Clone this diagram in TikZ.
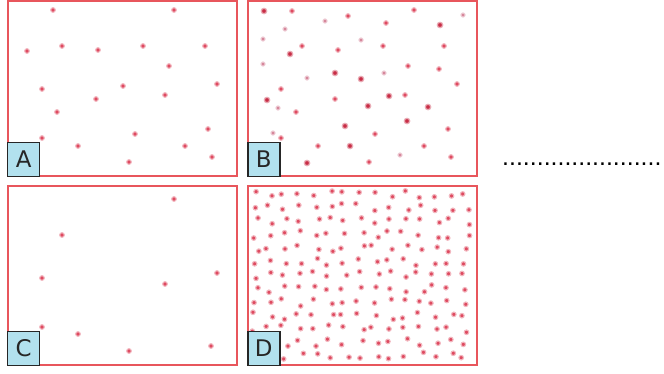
\documentclass[tikz,border=0pt]{standalone}
\usepackage{fontspec}
\setmainfont{DejaVu Sans}
\newfontfamily\blankfont{Liberation Sans}
\usetikzlibrary{positioning}
\definecolor{framered}{RGB}{232,86,92}
\definecolor{dotred}{RGB}{222,74,96}
\definecolor{dotdark}{RGB}{200,45,70}
\definecolor{dotpale}{RGB}{214,135,155}
\definecolor{tagblue}{RGB}{178,225,238}
\definecolor{tagline}{RGB}{38,38,38}
\tikzset{
  panel/.style={draw=framered, line width=2bp, minimum width=229bp, inner sep=0pt},
  tag/.style={draw=tagline, line width=1.5bp, fill=tagblue, text=black!85,
    minimum width=32bp, minimum height=34bp, inner sep=0pt, anchor=south west,
    font=\fontsize{23}{23}\selectfont},
  dot/.style={fill=dotred, draw=dotred!40, line width=1.1bp},
  darkdot/.style={fill=dotdark, draw=dotdark!40, line width=1.2bp},
  paledot/.style={fill=dotpale, draw=dotpale!40, line width=1bp},
}
\begin{document}
\begin{tikzpicture}[x=1bp, y=-1bp]
  \useasboundingbox (0,0) rectangle (664,373);
  % four frames
  \node[panel, minimum height=175.5bp] (pA) at (122.5,88.25) {};
  \node[panel, minimum height=175.5bp] (pB) at (362.5,88.25) {};
  \node[panel, minimum height=179bp] (pC) at (122.5,275.5) {};
  \node[panel, minimum height=179bp] (pD) at (362.5,275.5) {};
  % A: few particles
  \foreach \p in {(53,10),(174,10),(27,51),(62,46),(98,50),(143,46),(205,46),
      (169,66),(42,89),(123,86),(217,84),(96,99),(165,95),(57,112),(208,129),
      (135,134),(42,138),(78,146),(185,146),(212,157),(129,162)}
    \path[dot] \p circle[radius=2.3bp];
  % B: more particles, some darker
  \foreach \p in {(292,11),(414,10),(348,16),(386,23),(302,46),(338,50),(383,46),
      (444,46),(408,66),(439,69),(457,84),(281,89),(335,99),(405,95),(296,112),
      (448,129),(281,138),(375,134),(318,146),(424,146),(451,157),(369,162)}
    \path[dot] \p circle[radius=2.3bp];
  \foreach \p in {(264,11),(440,25),(290,54),(335,73),(361,79),(267,100),(389,96),
      (368,106),(428,107),(407,121),(345,126),(350,146),(307,163)}
    \path[darkdot] \p circle[radius=2.7bp];
  \foreach \p in {(285,29),(263,39),(361,40),(263,64),(384,73),(307,78),(278,108),
      (273,133),(400,155),(463,15),(325,21)}
    \path[paledot] \p circle[radius=2.1bp];
  % C: very few particles
  \foreach \p in {(174,199),(62,235),(42,278),(217,273),(165,284),(42,327),
      (78,334),(129,351),(211,346)}
    \path[dot] \p circle[radius=2.3bp];
  % D: dense particles (jittered grid)
  \pgfmathsetseed{42}
  \foreach \i in {0,...,14}{
    \foreach \j in {0,...,12}{
      \pgfmathsetmacro{\dx}{4.5*rand}
      \pgfmathsetmacro{\dy}{4*rand}
      \path[dot] ({255+15*\i+\dx},{194+13.5*\j+\dy}) circle[radius=2.3bp];
    }
  }
  % letter tags
  \node[tag] (tA) at (pA.south west) {A};
  \node[tag] (tB) at (pB.south west) {B};
  \node[tag] (tC) at (pC.south west) {C};
  \node[tag] (tD) at (pD.south west) {D};
  % answer blank
  \node[anchor=base west, inner sep=0pt, font=\blankfont\fontsize{25}{25}\selectfont]
    (blank) at (502,165) {.......................};
\end{tikzpicture}
\end{document}
